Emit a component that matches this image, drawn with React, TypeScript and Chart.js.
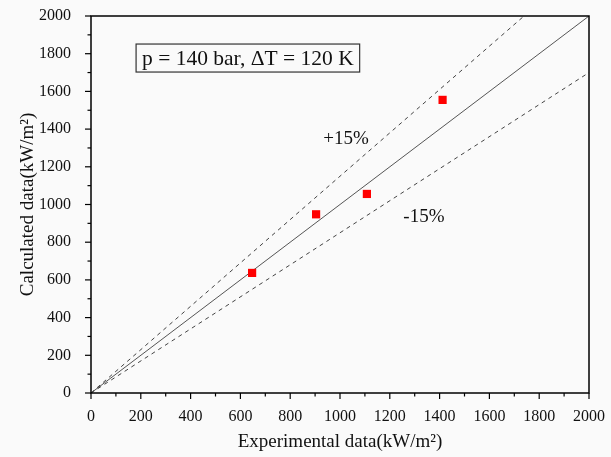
import React, { useEffect, useRef } from "react";
import { Chart, registerables } from "chart.js";

Chart.register(...registerables);

// Data
const experimental = [647, 904, 1108, 1412];
const calculated = [637, 948, 1056, 1555];
const axisMin = 0;
const axisMax = 2000;
const majorStep = 200;
const minorStep = 100;
const refLine = [[0, 0], [2000, 2000]];
const plus15 = [[0, 0], [2000 / 1.15, 2000]];
const minus15 = [[0, 0], [2000, 1700]];
const annotationText = "p = 140 bar, \u0394T = 120 K";
const plusLabel = "+15%";
const minusLabel = "-15%";

const SERIF = '"Liberation Serif", "Times New Roman", "DejaVu Serif", serif';

const framePlugin = {
  id: "frame",
  beforeDraw(chart: any) {
    const { ctx, width, height } = chart;
    ctx.save();
    ctx.fillStyle = "#fafafa";
    ctx.fillRect(0, 0, width, height);
    ctx.restore();
  },
  afterDraw(chart: any) {
    const { ctx, chartArea } = chart;
    const { left, right, top, bottom } = chartArea;
    const xs = chart.scales.x;
    const ys = chart.scales.y;
    ctx.save();
    ctx.strokeStyle = "#000";
    ctx.lineWidth = 1.5;
    ctx.strokeRect(left, top, right - left, bottom - top);
    ctx.lineWidth = 1.2;
    for (let v = axisMin; v <= axisMax; v += minorStep) {
      const len = v % majorStep === 0 ? 6 : 3.5;
      const px = xs.getPixelForValue(v);
      ctx.beginPath();
      ctx.moveTo(px, bottom);
      ctx.lineTo(px, bottom + len);
      ctx.stroke();
      const py = ys.getPixelForValue(v);
      ctx.beginPath();
      ctx.moveTo(left, py);
      ctx.lineTo(left - len, py);
      ctx.stroke();
    }
    // annotation box
    ctx.font = `21.5px ${SERIF}`;
    ctx.fillStyle = "#111";
    ctx.textBaseline = "middle";
    ctx.textAlign = "center";
    const cx = xs.getPixelForValue(630);
    const cy = ys.getPixelForValue(1777);
    const tw = ctx.measureText(annotationText).width;
    ctx.fillText(annotationText, cx, cy + 1);
    ctx.strokeStyle = "#333";
    ctx.lineWidth = 1.2;
    ctx.strokeRect(cx - tw / 2 - 6, cy - 14, tw + 12, 28);
    ctx.font = `19px ${SERIF}`;
    ctx.fillText(plusLabel, xs.getPixelForValue(1024), ys.getPixelForValue(1350));
    ctx.fillText(minusLabel, xs.getPixelForValue(1337), ys.getPixelForValue(936));
    ctx.restore();
  },
};

export default function App() {
  const ref = useRef<HTMLCanvasElement | null>(null);
  useEffect(() => {
    document.body.style.margin = "0";
    const toPts = (arr: number[][]) => arr.map(([x, y]) => ({ x, y }));
    const plain = (v: any) => String(v);
    const chart = new Chart(ref.current as HTMLCanvasElement, {
      type: "scatter",
      data: {
        datasets: [
          {
            label: "Data",
            data: experimental.map((x, i) => ({ x, y: calculated[i] })),
            pointStyle: "rect",
            pointRadius: 5.8,
            backgroundColor: "#ff0000",
            borderColor: "#ff0000",
            borderWidth: 0,
            order: 0,
          },
          {
            label: "y=x",
            data: toPts(refLine),
            showLine: true,
            pointRadius: 0,
            borderColor: "#555",
            borderWidth: 1,
            order: 1,
          },
          {
            label: "+15%",
            data: toPts(plus15),
            showLine: true,
            pointRadius: 0,
            borderColor: "#444",
            borderWidth: 1,
            borderDash: [4, 4],
            order: 2,
          },
          {
            label: "-15%",
            data: toPts(minus15),
            showLine: true,
            pointRadius: 0,
            borderColor: "#444",
            borderWidth: 1,
            borderDash: [4, 4],
            order: 3,
          },
        ],
      },
      options: {
        animation: false,
        responsive: false,
        layout: { padding: { left: 0, top: 16, right: 22, bottom: 0 } },
        plugins: { legend: { display: false }, tooltip: { enabled: false } },
        scales: {
          x: {
            type: "linear",
            min: axisMin,
            max: axisMax,
            grid: { display: false },
            border: { display: false },
            ticks: {
              stepSize: majorStep,
              padding: 6,
              maxRotation: 0,
              autoSkip: false,
              color: "#111",
              callback: plain,
              font: { family: SERIF, size: 16 },
            },
            title: {
              display: true,
              text: "Experimental data(kW/m\u00B2)",
              color: "#111",
              font: { family: SERIF, size: 19 },
              padding: { top: 4, bottom: 4 },
            },
            afterFit: (s: any) => {
              s.height = 64;
              s.paddingLeft = 0;
              s.paddingRight = 0;
            },
          },
          y: {
            type: "linear",
            min: axisMin,
            max: axisMax,
            grid: { display: false },
            border: { display: false },
            ticks: {
              stepSize: majorStep,
              padding: 12,
              autoSkip: false,
              color: "#111",
              callback: plain,
              font: { family: SERIF, size: 16 },
            },
            title: {
              display: true,
              text: "Calculated data(kW/m\u00B2)",
              color: "#111",
              font: { family: SERIF, size: 19 },
              padding: { top: 17, bottom: 4 },
            },
            afterFit: (s: any) => {
              s.width = 91;
              s.paddingTop = 0;
              s.paddingBottom = 0;
            },
          },
        },
      },
      plugins: [framePlugin],
    } as any);
    return () => chart.destroy();
  }, []);
  return <canvas ref={ref} width={611} height={457} style={{ display: "block" }} />;
}
